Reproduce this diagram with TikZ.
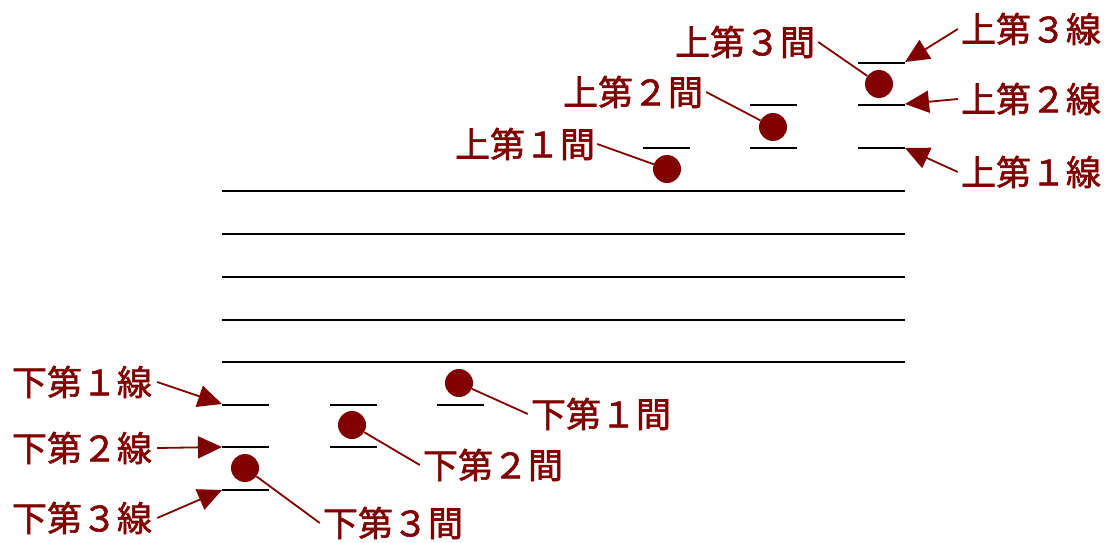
\documentclass[tikz,border=0pt]{standalone}
\usepackage{fontspec}
\newfontfamily\jpfont[FakeBold=1.6]{Noto Sans CJK JP}
\usetikzlibrary{arrows.meta}
\definecolor{notered}{RGB}{128,0,0}
\begin{document}
\begin{tikzpicture}[x=1pt,y=-1pt,
    lbl/.style={text=notered,font=\jpfont\fontsize{35}{40}\selectfont,inner sep=0pt},
    note/.style={circle,fill=notered,inner sep=0pt,minimum size=28pt},
    ptr/.style={draw=notered,line width=1.8pt,-{Triangle[length=24pt,width=22pt]}},
    lead/.style={draw=notered,line width=1.8pt}]
	\useasboundingbox (0,0) rectangle (1108,543);
	\foreach \y in {191,234,277,320,362}{\draw[line width=1.6pt] (222,\y) -- (905,\y);}
	\foreach \x/\y in {643/148,750/105,750/148,858/63,858/105,858/148,222/405,222/447,222/490,330/405,330/447,437/405}{\draw[line width=1.6pt] (\x,\y) -- ++(47,0);}
	\coordinate (u3) at (905,62);
	\coordinate (u2) at (905,104);
	\coordinate (u1) at (905,148);
	\coordinate (d1) at (222,404);
	\coordinate (d2) at (222,447);
	\coordinate (d3) at (222,490);
	\node[lbl] (tu3) at (1031,29) {上第３線};
	\node[lbl] (tu2) at (1031,99) {上第２線};
	\node[lbl] (tu1) at (1031,172) {上第１線};
	\node[lbl] (td1) at (82,382) {下第１線};
	\node[lbl] (td2) at (82,448) {下第２線};
	\node[lbl] (td3) at (82,518) {下第３線};
	\node[lbl] (su3) at (745,42) {上第３間};
	\node[lbl] (su2) at (633,92) {上第２間};
	\node[lbl] (su1) at (525,144) {上第１間};
	\node[lbl] (sd1) at (601,414) {下第１間};
	\node[lbl] (sd2) at (493,465) {下第２間};
	\node[lbl] (sd3) at (393,523) {下第３間};
	\draw[ptr] ([xshift=-3pt]tu3.west) -- (u3);
	\draw[ptr] ([xshift=-3pt]tu2.west) -- (u2);
	\draw[ptr] ([xshift=-3pt]tu1.west) -- (u1);
	\draw[ptr] ([xshift=5pt]td1.east) -- (d1);
	\draw[ptr] ([xshift=5pt]td2.east) -- (d2);
	\draw[ptr] ([xshift=5pt]td3.east) -- (d3);
	\node[note] (nu3) at (879,84) {};
	\node[note] (nu2) at (773,127) {};
	\node[note] (nu1) at (667,169) {};
	\node[note] (nd1) at (459,383) {};
	\node[note] (nd2) at (352,425) {};
	\node[note] (nd3) at (245,468) {};
	\draw[lead] ([xshift=3pt]su3.east) -- (nu3);
	\draw[lead] ([xshift=3pt]su2.east) -- (nu2);
	\draw[lead] ([xshift=2pt]su1.east) -- (nu1);
	\draw[lead] (nd1) -- ([xshift=-3pt]sd1.west);
	\draw[lead] (nd2) -- ([xshift=-3pt]sd2.west);
	\draw[lead] (nd3) -- ([xshift=-3pt]sd3.west);
\end{tikzpicture}
\end{document}
